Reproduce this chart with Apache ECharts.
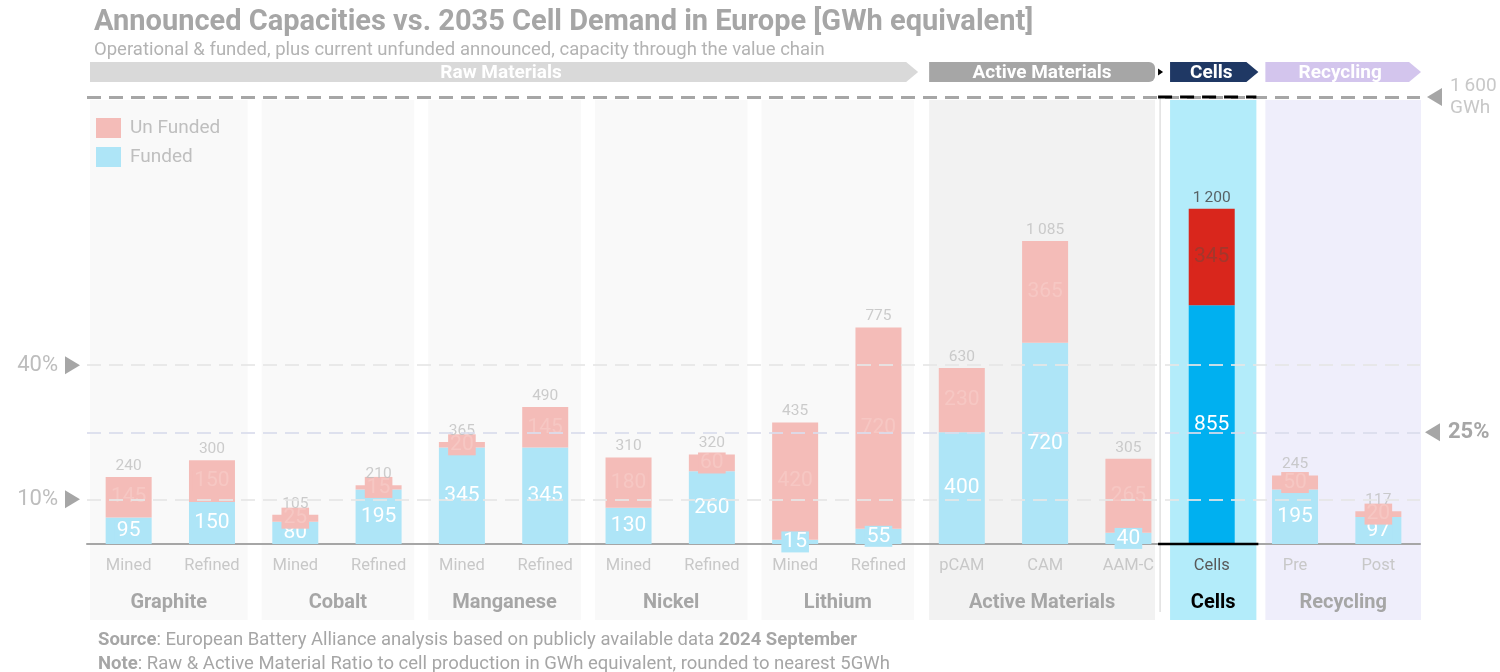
<!DOCTYPE html>
<html>
<head>
<meta charset="utf-8">
<script src="https://cdn.jsdelivr.net/npm/echarts@6/dist/echarts.min.js"></script>
<style>
  html, body { margin: 0; padding: 0; background: #ffffff; }
  #chart { width: 1500px; height: 672px; }
</style>
</head>
<body>
<div id="chart"></div>
<script>
// Capacity per value-chain step, GWh equivalent
const categories = ['Mined', 'Refined', 'Mined', 'Refined', 'Mined', 'Refined', 'Mined', 'Refined',
                    'Mined', 'Refined', 'pCAM', 'CAM', 'AAM-C', 'Cells', 'Pre', 'Post'];
const groups = ['Graphite', 'Cobalt', 'Manganese', 'Nickel', 'Lithium', 'Active Materials', 'Cells', 'Recycling'];
const groupSizes = [2, 2, 2, 2, 2, 3, 1, 2];
const funded   = [95, 150, 80, 195, 345, 345, 130, 260, 15, 55, 400, 720, 40, 855, 195, 97];
const unfunded = [145, 150, 25, 15, 20, 145, 180, 60, 420, 720, 230, 365, 265, 345, 50, 20];
const totals   = [240, 300, 105, 210, 365, 490, 310, 320, 435, 775, 630, 1085, 305, 1200, 245, 117];
const demand = 1600;                       // 2035 cell demand, GWh
const thresholds = [0.40, 0.25, 0.10];     // share of demand
const thresholdLabels = ['40%', '25%', '10%'];
const stages = ['Raw Materials', 'Active Materials', 'Cells', 'Recycling'];
const stageGroupCounts = [5, 1, 1, 1];

const FONT = 'Roboto, "Noto Sans", sans-serif';
const C_FUNDED = '#aee5f7', C_UNFUNDED = '#f4bcb8';
const C_CELL_FUNDED = '#00b0f0', C_CELL_UNFUNDED = '#d9261c';

const cellsIdx = categories.indexOf('Cells');
const groupOf = [];
groups.forEach((g, gi) => { for (let k = 0; k < groupSizes[gi]; k++) groupOf.push(g); });
const xData = categories.map((c, i) => groupOf[i] + ' / ' + c);

const fmt = v => String(v).replace(/\B(?=(\d{3})+(?!\d))/g, '\u2009');

const chart = echarts.init(document.getElementById('chart'), null, { renderer: 'canvas' });

const option = {
  animation: false,
  backgroundColor: '#ffffff',
  title: {
    text: 'Announced Capacities vs. 2035 Cell Demand in Europe [GWh equivalent]',
    subtext: 'Operational & funded, plus current unfunded announced, capacity through the value chain',
    left: 94, top: 8, itemGap: 4, padding: 0,
    textStyle: { fontFamily: FONT, fontSize: 29, fontWeight: 'bold', color: '#a6a6a6' },
    subtextStyle: { fontFamily: FONT, fontSize: 18.5, color: '#b3b3b3' }
  },
  legend: {
    data: ['Un Funded', 'Funded'],
    orient: 'vertical', left: 96, top: 118, padding: 0,
    itemWidth: 25, itemHeight: 20, itemGap: 9, icon: 'rect',
    selectedMode: false,
    textStyle: { fontFamily: FONT, fontSize: 19, color: '#bfbfbf', padding: [0, 0, 0, 4] }
  },
  grid: { left: 87, right: 80, top: 97, bottom: 128 },
  xAxis: {
    type: 'category',
    data: xData,
    axisTick: { show: false },
    axisLine: { lineStyle: { color: '#a6a6a6', width: 2 } },
    axisLabel: {
      formatter: (v, i) => categories[i],
      color: (v, i) => (i === cellsIdx ? '#595959' : '#c8c8c8'),
      fontFamily: FONT, fontSize: 16.5, margin: 13
    }
  },
  yAxis: { type: 'value', min: 0, max: demand, show: false, splitLine: { show: false } },
  series: [
    {
      // demand and threshold lines, beneath the bars
      type: 'line', data: [], z: 1, silent: true,
      markLine: {
        silent: true, symbol: ['none', 'none'], label: { show: false },
        data: [{ yAxis: demand, lineStyle: { color: '#a6a6a6', width: 3, type: [14, 8] } }].concat(
          thresholds.map((t, k) => ({
            yAxis: demand * t,
            lineStyle: { color: k === 1 ? '#b8bddb' : '#cfcfcf', width: 1.6, type: [14, 8] }
          })))
      }
    },
    {
      name: 'Funded', type: 'bar', stack: 'cap', barWidth: 46, z: 2,
      itemStyle: { color: C_FUNDED },
      label: {
        show: true, position: 'inside', color: '#ffffff', fontFamily: FONT, fontSize: 21,
        backgroundColor: C_FUNDED, padding: [0, 2]
      },
      data: funded.map((v, i) => i === cellsIdx
        ? { value: v, itemStyle: { color: C_CELL_FUNDED }, label: { backgroundColor: C_CELL_FUNDED } }
        : v)
    },
    {
      name: 'Un Funded', type: 'bar', stack: 'cap', barWidth: 46, z: 2,
      itemStyle: { color: C_UNFUNDED },
      label: {
        show: true, position: 'inside', color: '#f6c7c3', fontFamily: FONT, fontSize: 21,
        backgroundColor: C_UNFUNDED, padding: [0, 2]
      },
      data: unfunded.map((v, i) => i === cellsIdx
        ? { value: v, itemStyle: { color: C_CELL_UNFUNDED }, label: { color: '#a3372c', backgroundColor: C_CELL_UNFUNDED } }
        : v)
    },
    {
      // total capacity labels above each stack
      type: 'scatter', z: 4, silent: true, symbolSize: 0,
      itemStyle: { color: 'transparent' },
      label: {
        show: true, position: 'top', distance: 3, fontFamily: FONT, fontSize: 15.5,
        formatter: p => fmt(p.value),
        color: '#bfbfbf'
      },
      data: totals.map((v, i) => i === cellsIdx ? { value: v, label: { color: '#404040' } } : v)
    },
    {
      // light dashes over the bars
      type: 'line', data: [], z: 3, silent: true,
      markLine: {
        silent: true, symbol: ['none', 'none'], label: { show: false },
        data: thresholds.map(t => ({
          yAxis: demand * t,
          lineStyle: { color: 'rgba(255,255,255,0.55)', width: 1.6, type: [14, 8] }
        }))
      }
    }
  ]
};

chart.setOption(option);

// Panels, stage headers, group names and side markers placed on the axis scales
const groupLook = {
  'Graphite': { inset: [3, 6] },
  'Active Materials': { fill: '#f2f2f2', inset: [9, 15] },
  'Cells': { fill: '#b3ecfa', inset: [0, -3], label: '#000000' },
  'Recycling': { fill: '#efeefb', inset: [12, -1] }
};
const stageLook = [
  { fill: '#d9d9d9', tip: 12, extend: 4 },
  { fill: '#a6a6a6', tip: 0, extend: 0 },
  { fill: '#1f3864', tip: 12, extend: 2 },
  { fill: '#d3c5ed', tip: 12, extend: 0 }
];

function decorate() {
  const X = i => chart.convertToPixel({ xAxisIndex: 0 }, i);
  const Y = v => chart.convertToPixel({ yAxisIndex: 0 }, v);
  const half = (X(1) - X(0)) / 2;
  const yTop = Y(demand), yBase = Y(0);
  const els = [];
  const panels = [];

  let start = 0;
  groups.forEach((g, gi) => {
    const n = groupSizes[gi];
    const look = Object.assign({ fill: '#f9f9f9', inset: [8, 6], label: '#a6a6a6' }, groupLook[g] || {});
    const x0 = X(start) - half + look.inset[0];
    const x1 = X(start + n - 1) + half - look.inset[1];
    panels.push([x0, x1]);
    els.push({ type: 'rect', silent: true, z: -10,
      shape: { x: x0, y: yTop + 3, width: x1 - x0, height: yBase + 76 - yTop - 3 },
      style: { fill: look.fill } });
    els.push({ type: 'text', silent: true, z: 10, x: (x0 + x1) / 2, y: yBase + 59,
      style: { text: g, fill: look.label, fontFamily: FONT, fontSize: 20, fontWeight: 'bold',
               align: 'center', verticalAlign: 'middle' } });
    start += n;
  });

  // stage header chevrons
  let gi = 0;
  const hy0 = yTop - 35, hy1 = yTop - 15, hym = (hy0 + hy1) / 2;
  stages.forEach((s, si) => {
    const look = stageLook[si];
    const x0 = panels[gi][0];
    const x1 = panels[gi + stageGroupCounts[si] - 1][1] + look.extend;
    gi += stageGroupCounts[si];
    if (look.tip > 0) {
      els.push({ type: 'polygon', silent: true, z: 5,
        shape: { points: [[x0, hy0], [x1 - look.tip, hy0], [x1, hym], [x1 - look.tip, hy1], [x0, hy1]] },
        style: { fill: look.fill } });
    } else {
      els.push({ type: 'rect', silent: true, z: 5,
        shape: { x: x0, y: hy0, width: x1 - x0, height: hy1 - hy0, r: [0, 6, 6, 0] },
        style: { fill: look.fill } });
    }
    els.push({ type: 'text', silent: true, z: 6, x: (x0 + x1 - look.tip / 2) / 2, y: hym + 1,
      style: { text: s, fill: '#ffffff', fontFamily: FONT, fontSize: 19, fontWeight: 'bold',
               align: 'center', verticalAlign: 'middle' } });
  });

  // cells column accents
  const cp = panels[groups.indexOf('Cells')];
  const sepX = cp[0] - 10;
  els.push({ type: 'polygon', silent: true, z: 6,
    shape: { points: [[sepX - 2, hym - 3.5], [sepX + 3, hym], [sepX - 2, hym + 3.5]] },
    style: { fill: '#000000' } });
  els.push({ type: 'line', silent: true, z: -5,
    shape: { x1: sepX, y1: yTop, x2: sepX, y2: yBase + 68 },
    style: { stroke: '#d0d0d0', lineWidth: 1 } });
  els.push({ type: 'line', silent: true, z: 7,
    shape: { x1: cp[0] - 12, y1: yBase, x2: cp[1] + 2, y2: yBase },
    style: { stroke: '#000000', lineWidth: 2.5 } });
  els.push({ type: 'line', silent: true, z: 7,
    shape: { x1: cp[0] - 12, y1: yTop, x2: cp[1], y2: yTop },
    style: { stroke: '#000000', lineWidth: 3, lineDash: [14, 8] } });

  // threshold markers: left side for 40% and 10%, right side for 25%
  const xl = X(0) - half, xr = X(categories.length - 1) + half;
  thresholds.forEach((t, k) => {
    const y = Y(demand * t);
    if (k === 1) {
      els.push({ type: 'polygon', silent: true, z: 8,
        shape: { points: [[xr + 20, y - 9], [xr + 20, y + 9], [xr + 5, y]] }, style: { fill: '#a6a6a6' } });
      els.push({ type: 'text', silent: true, z: 8, x: xr + 28, y: y,
        style: { text: thresholdLabels[k], fill: '#a6a6a6', fontFamily: FONT, fontSize: 22, fontWeight: 'bold',
                 align: 'left', verticalAlign: 'middle' } });
    } else {
      els.push({ type: 'polygon', silent: true, z: 8,
        shape: { points: [[xl - 22, y - 9], [xl - 22, y + 9], [xl - 7, y]] }, style: { fill: '#a6a6a6' } });
      els.push({ type: 'text', silent: true, z: 8, x: xl - 29, y: y,
        style: { text: thresholdLabels[k], fill: '#bdbdbd', fontFamily: FONT, fontSize: 22,
                 align: 'right', verticalAlign: 'middle' } });
    }
  });
  // demand marker
  els.push({ type: 'polygon', silent: true, z: 8,
    shape: { points: [[xr + 22, yTop - 9], [xr + 22, yTop + 9], [xr + 7, yTop]] }, style: { fill: '#a6a6a6' } });
  els.push({ type: 'text', silent: true, z: 8, x: xr + 30, y: yTop,
    style: { text: fmt(demand) + '\nGWh', fill: '#c8c8c8', fontFamily: FONT, fontSize: 19, lineHeight: 22,
             align: 'left', verticalAlign: 'middle' } });

  // source and note
  const rich = { b: { fontWeight: 'bold', fontFamily: FONT, fontSize: 18.5, fill: '#a6a6a6' } };
  els.push({ type: 'text', silent: true, z: 8, x: 98, y: yBase + 96,
    style: { text: '{b|Source}: European Battery Alliance analysis based on publicly available data {b|2024 September}',
             rich: rich, fill: '#a6a6a6', fontFamily: FONT, fontSize: 18.5, verticalAlign: 'middle' } });
  els.push({ type: 'text', silent: true, z: 8, x: 98, y: yBase + 120,
    style: { text: '{b|Note}: Raw & Active Material Ratio to cell production in GWh equivalent, rounded to nearest 5GWh',
             rich: rich, fill: '#a6a6a6', fontFamily: FONT, fontSize: 18.5, verticalAlign: 'middle' } });

  chart.setOption({ graphic: { elements: els } });
}
decorate();
</script>
</body>
</html>
